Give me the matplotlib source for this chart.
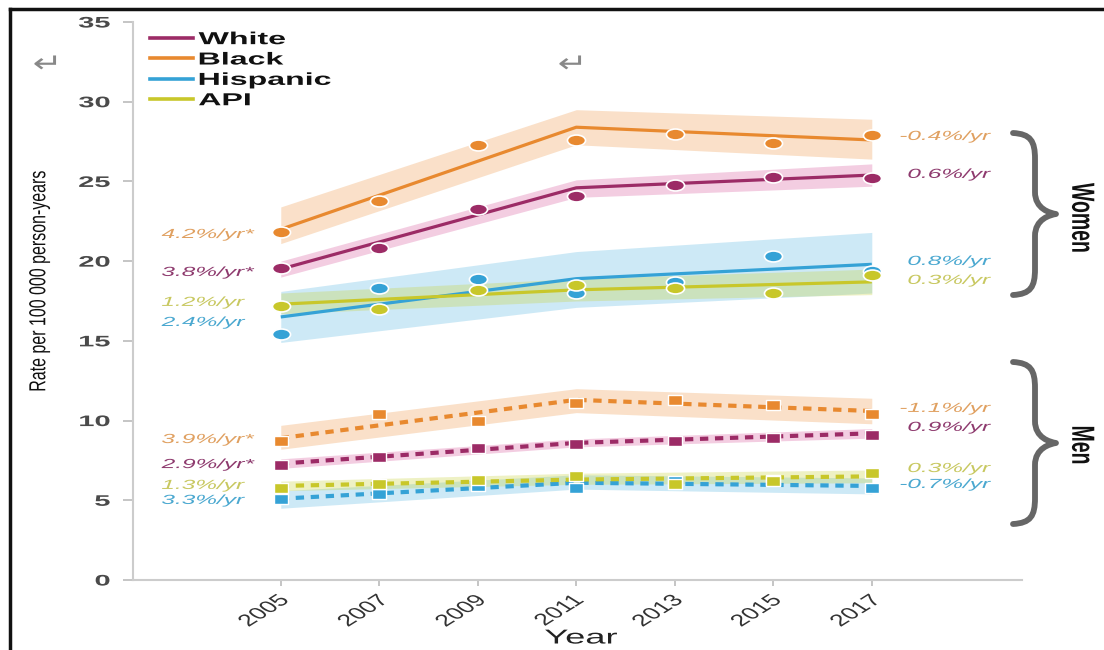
import matplotlib
matplotlib.use("Agg")
import matplotlib.pyplot as plt
from matplotlib.path import Path
from matplotlib.patches import PathPatch
from matplotlib.lines import Line2D
from matplotlib.markers import MarkerStyle
from matplotlib.patheffects import AbstractPathEffect
from matplotlib.transforms import Affine2D

# ---------------- data ----------------
years = [2005, 2007, 2009, 2011, 2013, 2015, 2017]
fit_years = [2005, 2011, 2017]
groups = ["White", "Black", "Hispanic", "API"]

# observed rates, women (per 100 000 person-years)
women_white = [19.6, 20.8, 23.3, 24.1, 24.8, 25.3, 25.2]
women_black = [21.8, 23.8, 27.3, 27.6, 28.0, 27.4, 27.9]
women_hisp = [15.4, 18.3, 18.9, 18.0, 18.7, 20.3, 19.4]
women_api = [17.2, 17.0, 18.2, 18.5, 18.3, 18.0, 19.1]

# observed rates, men
men_white = [7.2, 7.7, 8.3, 8.5, 8.7, 8.9, 9.1]
men_black = [8.7, 10.4, 10.0, 11.1, 11.3, 11.0, 10.4]
men_hisp = [5.1, 5.4, 5.9, 5.8, 6.2, 6.3, 5.8]
men_api = [5.8, 6.0, 6.3, 6.5, 6.0, 6.2, 6.7]

# joinpoint fits (2005, 2011, 2017) with confidence limits
women_white_fit = [19.5, 24.6, 25.4]
women_white_lo = [19.0, 24.0, 24.7]
women_white_hi = [20.0, 25.1, 26.1]
women_black_fit = [22.0, 28.4, 27.6]
women_black_lo = [21.1, 27.3, 26.4]
women_black_hi = [23.4, 29.5, 28.9]
women_hisp_fit = [16.5, 18.9, 19.8]
women_hisp_lo = [14.9, 17.1, 18.0]
women_hisp_hi = [18.1, 20.6, 21.8]
women_api_fit = [17.3, 18.2, 18.7]
women_api_lo = [16.7, 17.5, 17.9]
women_api_hi = [18.0, 18.9, 19.5]

men_white_fit = [7.3, 8.6, 9.2]
men_white_lo = [7.0, 8.35, 8.9]
men_white_hi = [7.6, 8.85, 9.5]
men_black_fit = [8.9, 11.3, 10.6]
men_black_lo = [8.2, 10.5, 9.8]
men_black_hi = [9.7, 12.0, 11.4]
men_hisp_fit = [5.1, 6.1, 5.9]
men_hisp_lo = [4.5, 5.7, 5.4]
men_hisp_hi = [5.6, 6.6, 6.4]
men_api_fit = [5.9, 6.3, 6.5]
men_api_lo = [5.6, 6.0, 6.1]
men_api_hi = [6.2, 6.7, 6.9]

# annual percent change labels
women_apc_early = ["3.8%/yr*", "4.2%/yr*", "2.4%/yr", "1.2%/yr"]
women_apc_late = ["0.6%/yr", "-0.4%/yr", "0.8%/yr", "0.3%/yr"]
men_apc_early = ["2.9%/yr*", "3.9%/yr*", "3.3%/yr", "1.3%/yr"]
men_apc_late = ["0.9%/yr", "-1.1%/yr", "-0.7%/yr", "0.3%/yr"]

y_ticks = [0, 5, 10, 15, 20, 25, 30, 35]

# ---------------- style ----------------
line_colors = {"White": "#9c2b66", "Black": "#e8892f",
               "Hispanic": "#35a2d6", "API": "#c8c72a"}
band_colors = {"White": "#d85a9e", "Black": "#ef9a4c",
               "Hispanic": "#5bb8e2", "API": "#c9d23c"}
text_colors = {"White": "#8e3a6e", "Black": "#e0a060",
               "Hispanic": "#4aa8d0", "API": "#c8c860"}

# label heights (data units) for the APC annotations
women_early_y = {"White": 19.26, "Black": 21.64, "Hispanic": 16.12, "API": 17.38}
women_late_y = {"White": 25.41, "Black": 27.79, "Hispanic": 19.95, "API": 18.76}
men_early_y = {"White": 7.21, "Black": 8.78, "Hispanic": 4.96, "API": 5.90}
men_late_y = {"White": 9.54, "Black": 10.73, "Hispanic": 5.96, "API": 6.96}


class Widen(AbstractPathEffect):
    """Draw text glyphs stretched horizontally about a chosen edge."""

    def __init__(self, sx, anchor="center"):
        super().__init__()
        self.sx = sx
        self.anchor = anchor

    def draw_path(self, renderer, gc, tpath, affine, rgbFace=None):
        ext = tpath.get_extents(affine)
        if self.anchor == "left":
            x0 = ext.x0
        elif self.anchor == "right":
            x0 = ext.x1
        else:
            x0 = 0.5 * (ext.x0 + ext.x1)
        t = affine + Affine2D().translate(-x0, 0).scale(self.sx, 1).translate(x0, 0)
        renderer.draw_path(gc, tpath, t, rgbFace)


# wide markers: ellipse and flat square
ellipse = Path.unit_circle().transformed(Affine2D().scale(1.65, 1.0))
rect = Path([(-1.5, -1), (1.5, -1), (1.5, 1), (-1.5, 1), (-1.5, -1)],
            [Path.MOVETO, Path.LINETO, Path.LINETO, Path.LINETO, Path.CLOSEPOLY])

W, H = 1104, 650
fig = plt.figure(figsize=(W / 100, H / 100), dpi=100)
ax = fig.add_axes([133 / W, 1 - 580 / H, (1022 - 133) / W, (580 - 22) / H])

sans = ["Liberation Sans", "DejaVu Sans"]

women = {
    "White": (women_white, women_white_fit, women_white_lo, women_white_hi),
    "Black": (women_black, women_black_fit, women_black_lo, women_black_hi),
    "Hispanic": (women_hisp, women_hisp_fit, women_hisp_lo, women_hisp_hi),
    "API": (women_api, women_api_fit, women_api_lo, women_api_hi),
}
men = {
    "White": (men_white, men_white_fit, men_white_lo, men_white_hi),
    "Black": (men_black, men_black_fit, men_black_lo, men_black_hi),
    "Hispanic": (men_hisp, men_hisp_fit, men_hisp_lo, men_hisp_hi),
    "API": (men_api, men_api_fit, men_api_lo, men_api_hi),
}

order = ["Hispanic", "API", "White", "Black"]
for g in order:
    obs, fit, lo, hi = women[g]
    ax.fill_between(fit_years, lo, hi, color=band_colors[g], alpha=0.3,
                    lw=0, zorder=1)
    ax.plot(fit_years, fit, color=line_colors[g], lw=2.3, zorder=3,
            solid_capstyle="butt")
    ax.plot(years, obs, ls="none", marker=MarkerStyle(ellipse), ms=13,
            mfc=line_colors[g], mec="white", mew=1.2, zorder=4)

    obs, fit, lo, hi = men[g]
    ax.fill_between(fit_years, lo, hi, color=band_colors[g], alpha=0.3,
                    lw=0, zorder=1)
    ax.plot(fit_years, fit, color=line_colors[g], lw=3.0, zorder=3,
            ls=(0, (2.0, 1.6)), dash_capstyle="butt")
    ax.plot(years, obs, ls="none", marker=MarkerStyle(rect), ms=10.5,
            mfc=line_colors[g], mec="white", mew=1.0, zorder=4)

# APC annotations
x_left = 2005 - (281 - 162) / 49.2
x_right = 2005 + (990 - 281) / 49.2
for i, g in enumerate(groups):
    kw = dict(fontsize=9.5, style="italic", color=text_colors[g],
              family=sans, va="center", clip_on=False)
    for x, y, s, ha in ((x_left, women_early_y[g], women_apc_early[i], "left"),
                        (x_right, women_late_y[g], women_apc_late[i], "right"),
                        (x_left, men_early_y[g], men_apc_early[i], "left"),
                        (x_right, men_late_y[g], men_apc_late[i], "right")):
        t = ax.text(x, y, s, ha=ha, **kw)
        t.set_path_effects([Widen(1.85, ha)])

# axes
ax.set_xlim(2002, 2020.05)
ax.set_ylim(0, 35)
ax.set_yticks(y_ticks)
ax.set_xticks(years)
ax.set_xticklabels([str(y) for y in years], rotation=45, ha="right",
                   rotation_mode="anchor", family=sans, fontsize=12,
                   color="#333333")
for lab in ax.get_xticklabels():
    lab.set_path_effects([Widen(1.6, "right")])
for lab in ax.get_yticklabels():
    lab.set_family(sans)
    lab.set_fontsize(11)
    lab.set_color("#4a4a4a")
    lab.set_fontweight("bold")
    lab.set_path_effects([Widen(1.9, "right")])
ax.tick_params(axis="y", color="#bbbbbb", length=7, width=1.2, pad=9.5)
ax.tick_params(axis="x", color="#bbbbbb", length=4, width=1.2, pad=5)
for s in ("top", "right"):
    ax.spines[s].set_visible(False)
for s in ("left", "bottom"):
    ax.spines[s].set_color("#cccccc")
    ax.spines[s].set_linewidth(1.5)

xl = ax.set_xlabel("Year", family=sans, fontsize=14.5, color="#222222")
ax.xaxis.set_label_coords((581 - 133) / 889, (580 - 638) / 558)
xl.set_va("center")
xl.set_path_effects([Widen(1.8, "center")])

yl = fig.text(39 / W, 1 - 281 / H, "Rate per 100 000 person-years",
              rotation=90, ha="center", va="center", family=sans,
              fontsize=11.5, color="#111111")
yl.set_path_effects([Widen(1.45, "center")])

# legend
handles = [Line2D([0], [0], color=line_colors[g], lw=2.6) for g in groups]
leg = ax.legend(handles, groups, loc="upper left",
                bbox_to_anchor=((150 - 133) / 889, (580 - 32) / 558),
                frameon=False, handlelength=2.5, handletextpad=0.3,
                labelspacing=0.3, borderpad=0, borderaxespad=0,
                prop={"family": sans, "size": 12.5})
for t in leg.get_texts():
    t.set_color("#111111")
    t.set_path_effects([Widen(1.85, "left")])
    t.set_fontweight("bold")


# curly braces for the two panels
def brace(x0, top, bottom, xs, xt):
    mid = (top + bottom) / 2
    pts = [
        (x0, top), (x0 + 0.8 * (xs - x0), top + 1), (xs, top + 8), (xs, top + 26),
        (xs, mid - 22), (xs, mid - 5), (xt - 6, mid - 1), (xt, mid),
        (xt - 6, mid + 1), (xs, mid + 5), (xs, mid + 22), (xs, bottom - 26),
        (xs, bottom - 8), (x0 + 0.8 * (xs - x0), bottom - 1), (x0, bottom),
    ]
    codes = [Path.MOVETO, Path.CURVE4, Path.CURVE4, Path.CURVE4,
             Path.LINETO, Path.CURVE4, Path.CURVE4, Path.CURVE4,
             Path.CURVE4, Path.CURVE4, Path.CURVE4, Path.LINETO,
             Path.CURVE4, Path.CURVE4, Path.CURVE4]
    fpts = [(x / W, 1 - y / H) for x, y in pts]
    fig.add_artist(PathPatch(Path(fpts, codes), transform=fig.transFigure,
                             fill=False, ec="#666666", lw=4.2,
                             capstyle="round", joinstyle="round"))


brace(1013, 133, 295, 1035, 1056)
brace(1013, 362, 524, 1035, 1056)
for label, yc in (("Women", 218), ("Men", 445)):
    t = fig.text(1081 / W, 1 - yc / H, label, rotation=-90, ha="center",
                 va="center", family=sans, fontweight="bold", fontsize=14,
                 color="#111111")
    t.set_path_effects([Widen(1.65, "center")])

# return-arrow glyphs
for xp in (47, 572):
    t = fig.text(xp / W, 1 - 65 / H, "\u21b5", ha="center", va="center",
                 fontsize=19, color="#888888", family="DejaVu Sans")
    t.set_path_effects([Widen(1.35, "center")])

# outer frame (left and top edges)
fig.add_artist(Line2D([10 / W, 10 / W], [0, 1 - 9 / H],
                      transform=fig.transFigure, color="#111111", lw=2.5))
fig.add_artist(Line2D([10 / W, 1], [1 - 9 / H, 1 - 9 / H],
                      transform=fig.transFigure, color="#111111", lw=2.5))

fig.savefig("out.png", dpi=100)
